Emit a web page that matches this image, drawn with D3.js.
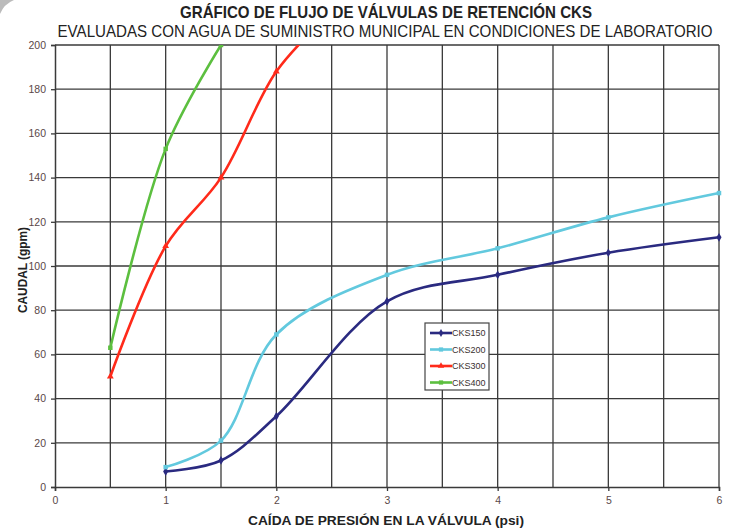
<!DOCTYPE html>
<html><head><meta charset="utf-8">
<script src="https://cdn.jsdelivr.net/npm/d3@7"></script>
<style>
body{margin:0;background:#fff;}
svg{display:block;font-family:"Liberation Sans",Arial,sans-serif;}
</style></head><body>
<svg id="c" width="729" height="531"></svg>
<script>
const seriesNames = ["CKS150","CKS200","CKS300","CKS400"];
const xCKS150 = [1,1.5,2,3,4,5,6];
const yCKS150 = [7,12,32,84,96,106,113];
const xCKS200 = [1,1.5,2,3,4,5,6];
const yCKS200 = [9,21,69,96,108,122,133];
const xCKS300 = [0.5,1,1.5,2,2.5];
const yCKS300 = [50,109,140,188,215];
const xCKS400 = [0.5,1,1.5];
const yCKS400 = [63,153,200];
const xTicks = [0,1,2,3,4,5,6];
const yTicks = [0,20,40,60,80,100,120,140,160,180,200];
const colors = ["#2a2a80","#62c9de","#ff2a1a","#5cbf3f"];
const title = "GRÁFICO DE FLUJO DE VÁLVULAS DE RETENCIÓN CKS";
const subtitle = "EVALUADAS CON AGUA DE SUMINISTRO MUNICIPAL EN CONDICIONES DE LABORATORIO";
const xLabel = "CAÍDA DE PRESIÓN EN LA VÁLVULA (psi)";
const yLabel = "CAUDAL (gpm)";

const series = [
  {name:seriesNames[0], xs:xCKS150, ys:yCKS150, marker:"diamond"},
  {name:seriesNames[1], xs:xCKS200, ys:yCKS200, marker:"square"},
  {name:seriesNames[2], xs:xCKS300, ys:yCKS300, marker:"triangle"},
  {name:seriesNames[3], xs:xCKS400, ys:yCKS400, marker:"square"}
];

const svg = d3.select("#c");
const L=55, R=719, T=45, B=487;
const x = d3.scaleLinear().domain([0,6]).range([L,R]);
const y = d3.scaleLinear().domain([0,200]).range([B,T]);

// grid
const gridX = d3.range(0.5,6.01,0.5);
svg.append("g").selectAll("line").data(gridX).join("line")
  .attr("x1",d=>x(d)).attr("x2",d=>x(d)).attr("y1",T).attr("y2",B)
  .attr("stroke","#3a3a3a").attr("stroke-width",1.3);
svg.append("g").selectAll("line").data(yTicks.filter(d=>d>0)).join("line")
  .attr("x1",L).attr("x2",R).attr("y1",d=>y(d)).attr("y2",d=>y(d))
  .attr("stroke","#3a3a3a").attr("stroke-width",1.3);

// axes
const xAxis = svg.append("g").attr("transform",`translate(0,${B})`)
  .call(d3.axisBottom(x).tickValues(xTicks).tickSize(4).tickPadding(6).tickFormat(d3.format("d")));
const yAxis = svg.append("g").attr("transform",`translate(${L},0)`)
  .call(d3.axisLeft(y).tickValues(yTicks).tickSize(4).tickPadding(5));
[xAxis,yAxis].forEach(a=>{
  a.select(".domain").attr("stroke","#3a3a3a").attr("stroke-width",1.5);
  a.selectAll(".tick line").attr("stroke","#3a3a3a").attr("stroke-width",1.3);
  a.selectAll(".tick text").attr("fill","#5a4848").attr("font-size",10.5)
    .attr("font-family","'Liberation Sans',Arial,sans-serif");
});

// clip
svg.append("clipPath").attr("id","clip").append("rect")
  .attr("x",L).attr("y",T).attr("width",R-L+4).attr("height",B-T+4);

const line = d3.line().x(d=>x(d[0])).y(d=>y(d[1])).curve(d3.curveCatmullRom.alpha(0.5));
const sym = {diamond:d3.symbolDiamond, square:d3.symbolSquare, triangle:d3.symbolTriangle};
const plot = svg.append("g").attr("clip-path","url(#clip)");
series.forEach((s,i)=>{
  const pts = s.xs.map((v,j)=>[v,s.ys[j]]);
  plot.append("path").attr("d",line(pts)).attr("fill","none")
    .attr("stroke",colors[i]).attr("stroke-width",2.6);
  plot.selectAll(null).data(pts).join("path")
    .attr("transform",d=>`translate(${x(d[0])},${y(d[1])})`)
    .attr("d",d3.symbol(sym[s.marker],s.marker==="diamond"?22:20))
    .attr("fill",colors[i]);
});

// legend
const lg = svg.append("g").attr("transform","translate(425,323)");
lg.append("rect").attr("width",64).attr("height",67).attr("fill","#fff")
  .attr("stroke","#444").attr("stroke-width",1.2);
series.forEach((s,i)=>{
  const yy = 10+i*16.5;
  lg.append("line").attr("x1",5).attr("x2",27).attr("y1",yy).attr("y2",yy)
    .attr("stroke",colors[i]).attr("stroke-width",2.6);
  lg.append("path").attr("transform",`translate(16,${yy})`)
    .attr("d",d3.symbol(sym[s.marker],18)).attr("fill",colors[i]);
  lg.append("text").attr("x",27).attr("y",yy+3).text(s.name)
    .attr("font-size",9).attr("fill","#3a3030");
});

// titles (horizontally condensed like the original narrow font)
function condensed(txt, cx, cy, size, bold, width){
  const sx = 0.88;
  svg.append("text").attr("transform",`translate(${cx},${cy}) scale(${sx},1)`)
    .attr("text-anchor","middle").attr("font-size",size)
    .attr("font-weight",bold?"bold":"normal").attr("fill","#222")
    .attr("textLength",width/sx).attr("lengthAdjust","spacingAndGlyphs").text(txt);
}
condensed(title,386,18,16,true,412);
condensed(subtitle,385,37,16,false,655);
condensed(xLabel,386,525,13,true,276);
svg.append("text").attr("transform","translate(27,270) rotate(-90)").attr("text-anchor","middle")
  .attr("font-size",13).attr("font-weight","bold").attr("fill","#222")
  .attr("textLength",86).attr("lengthAdjust","spacingAndGlyphs").text(yLabel);

// decorative corner
svg.append("path").attr("d","M0,14 Q4,4 14,0 L0,0 Z").attr("fill","#bbb");
</script>
</body></html>
